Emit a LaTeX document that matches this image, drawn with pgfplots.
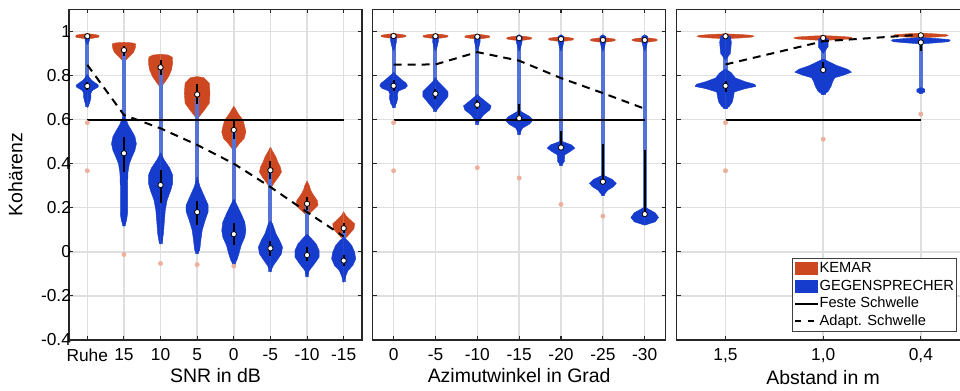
\documentclass[border=0pt]{standalone}
\usepackage{fontspec}
\setmainfont{Liberation Sans}
\usepackage{pgfplots}
\usepackage{pgfplotstable}
\pgfplotsset{compat=1.18}

\definecolor{kred}{RGB}{205,72,32}
\definecolor{kblue}{RGB}{22,60,205}
\definecolor{kcol}{RGB}{85,115,215}
\definecolor{kpink}{RGB}{236,175,155}

% ---------- Panel A (SNR) ----------
\pgfplotstableread{
v w
0.990 0
0.987 0.15
0.983 0.30
0.978 0.32
0.973 0.30
0.969 0.15
0.966 0
}\vAaR
\pgfplotstableread{
v w
0.988 0
0.982 0.06
0.970 0.07
0.955 0.05
0.940 0
}\vAaT
\pgfplotstableread{
v w
0.805 0
0.790 0.06
0.778 0.12
0.766 0.22
0.757 0.30
0.748 0.30
0.740 0.22
0.732 0.14
0.720 0.10
0.700 0.10
0.685 0.08
0.670 0.05
0.655 0
}\vAaB
\pgfplotstableread{
v w
0.950 0
0.948 0.22
0.943 0.32
0.925 0.31
0.905 0.26
0.890 0.17
0.875 0.08
0.860 0
}\vAbR
\pgfplotstableread{
v w
0.620 0
0.600 0.06
0.575 0.12
0.553 0.20
0.523 0.30
0.490 0.34
0.460 0.30
0.430 0.22
0.400 0.15
0.360 0.11
0.300 0.10
0.240 0.10
0.175 0.10
0.140 0.07
0.115 0
}\vAbB
\pgfplotstableread{
v w
0.896 0
0.893 0.20
0.883 0.32
0.856 0.33
0.826 0.30
0.795 0.22
0.773 0.13
0.755 0.05
0.745 0
}\vAcR
\pgfplotstableread{
v w
0.450 0
0.417 0.10
0.380 0.25
0.348 0.33
0.310 0.33
0.280 0.28
0.235 0.18
0.190 0.13
0.130 0.10
0.083 0.08
0.045 0.04
0.035 0
}\vAcB
\pgfplotstableread{
v w
0.795 0
0.790 0.18
0.765 0.33
0.720 0.35
0.674 0.33
0.644 0.20
0.614 0.06
0.605 0
}\vAdR
\pgfplotstableread{
v w
0.340 0
0.295 0.08
0.250 0.20
0.212 0.30
0.182 0.30
0.144 0.22
0.100 0.14
0.053 0.10
0.008 0.07
-0.010 0
}\vAdB
\pgfplotstableread{
v w
0.660 0
0.650 0.04
0.627 0.12
0.597 0.25
0.567 0.30
0.544 0.33
0.514 0.28
0.491 0.15
0.468 0.05
0.450 0
}\vAeR
\pgfplotstableread{
v w
0.240 0
0.218 0.07
0.173 0.20
0.135 0.30
0.097 0.33
0.067 0.30
0.029 0.20
-0.009 0.14
-0.039 0.08
-0.062 0
}\vAeB
\pgfplotstableread{
v w
0.475 0
0.453 0.07
0.430 0.15
0.408 0.20
0.385 0.27
0.362 0.30
0.339 0.22
0.317 0.12
0.294 0.03
0.285 0
}\vAfR
\pgfplotstableread{
v w
0.140 0
0.127 0.06
0.082 0.15
0.052 0.25
0.021 0.33
-0.009 0.30
-0.039 0.18
-0.062 0.08
-0.092 0
}\vAfB
\pgfplotstableread{
v w
0.322 0
0.301 0.06
0.279 0.10
0.256 0.18
0.233 0.28
0.211 0.30
0.191 0.18
0.173 0.06
0.165 0
}\vAgR
\pgfplotstableread{
v w
0.080 0
0.067 0.08
0.036 0.25
0.006 0.33
-0.024 0.33
-0.055 0.20
-0.085 0.06
-0.115 0
}\vAgB
\pgfplotstableread{
v w
0.182 0
0.165 0.06
0.142 0.20
0.127 0.30
0.105 0.28
0.089 0.20
0.067 0.08
0.055 0
}\vAhR
\pgfplotstableread{
v w
0.065 0
0.052 0.10
0.029 0.22
-0.002 0.30
-0.032 0.33
-0.062 0.25
-0.085 0.12
-0.108 0.06
-0.138 0
}\vAhB

% ---------- Panel B (Azimut) ----------
\pgfplotstableread{
v w
0.990 0
0.987 0.15
0.983 0.28
0.979 0.30
0.975 0.28
0.971 0.15
0.968 0
}\vBaR
\pgfplotstableread{
v w
0.989 0
0.986 0.15
0.982 0.28
0.978 0.30
0.974 0.28
0.970 0.15
0.967 0
}\vBbR
\pgfplotstableread{
v w
0.987 0
0.984 0.15
0.980 0.28
0.976 0.30
0.972 0.28
0.968 0.15
0.965 0
}\vBcR
\pgfplotstableread{
v w
0.980 0
0.977 0.15
0.973 0.28
0.969 0.30
0.965 0.28
0.961 0.15
0.958 0
}\vBdR
\pgfplotstableread{
v w
0.976 0
0.973 0.15
0.969 0.28
0.965 0.30
0.961 0.28
0.957 0.15
0.954 0
}\vBeR
\pgfplotstableread{
v w
0.972 0
0.969 0.15
0.965 0.28
0.961 0.30
0.957 0.28
0.953 0.15
0.950 0
}\vBfR
\pgfplotstableread{
v w
0.985 0
0.977 0.07
0.955 0.07
0.930 0.04
0.910 0
}\vBT
\pgfplotstableread{
v w
0.815 0
0.803 0.06
0.783 0.18
0.765 0.30
0.753 0.33
0.742 0.28
0.730 0.12
0.715 0.09
0.697 0.10
0.674 0.07
0.652 0
}\vBaB
\pgfplotstableread{
v w
0.790 0
0.773 0.06
0.750 0.18
0.727 0.30
0.705 0.30
0.682 0.20
0.659 0.10
0.636 0
}\vBbB
\pgfplotstableread{
v w
0.715 0
0.705 0.05
0.682 0.20
0.662 0.33
0.644 0.30
0.621 0.15
0.598 0.06
0.576 0
}\vBcB
\pgfplotstableread{
v w
0.645 0
0.636 0.05
0.614 0.25
0.598 0.33
0.580 0.25
0.561 0.08
0.530 0
}\vBdB
\pgfplotstableread{
v w
0.510 0
0.500 0.04
0.485 0.25
0.470 0.33
0.455 0.22
0.440 0.09
0.410 0.08
0.390 0
}\vBeB
\pgfplotstableread{
v w
0.350 0
0.344 0.05
0.329 0.22
0.311 0.32
0.295 0.25
0.280 0.12
0.262 0.04
0.255 0
}\vBfB
\pgfplotstableread{
v w
0.205 0
0.197 0.06
0.177 0.25
0.156 0.33
0.136 0.25
0.121 0
}\vBgB

% ---------- Panel C (Abstand) ----------
\pgfplotstableread{
v w
0.989 0
0.986 0.15
0.982 0.27
0.978 0.29
0.974 0.27
0.970 0.15
0.967 0
}\vCaR
\pgfplotstableread{
v w
0.981 0
0.978 0.15
0.974 0.28
0.970 0.30
0.966 0.28
0.962 0.15
0.959 0
}\vCbR
\pgfplotstableread{
v w
0.992 0
0.989 0.14
0.985 0.26
0.982 0.28
0.978 0.26
0.974 0.14
0.971 0
}\vCcR
\pgfplotstableread{
v w
0.985 0
0.978 0.05
0.950 0.06
0.900 0.05
0.870 0
}\vCaT
\pgfplotstableread{
v w
0.830 0
0.812 0.06
0.789 0.10
0.772 0.20
0.760 0.30
0.750 0.31
0.740 0.20
0.725 0.09
0.700 0.08
0.680 0.07
0.660 0.04
0.648 0
}\vCaB
\pgfplotstableread{
v w
0.975 0
0.965 0.05
0.930 0.05
0.900 0
}\vCbT
\pgfplotstableread{
v w
0.875 0
0.860 0.07
0.845 0.14
0.828 0.25
0.815 0.29
0.800 0.20
0.790 0.12
0.775 0.10
0.750 0.08
0.727 0.05
0.712 0
}\vCbB
\pgfplotstableread{
v w
0.972 0
0.968 0.15
0.963 0.29
0.958 0.30
0.953 0.28
0.948 0.15
0.943 0
}\vCcB
\pgfplotstableread{
v w
0.745 0
0.738 0.04
0.725 0.04
0.718 0
}\vCcL

\newcommand{\violin}[3]{%
  \addplot[draw=#3, line width=0.3pt, fill=#3] table[x expr=#1+\thisrow{w}, y=v] {#2};
  \addplot[draw=#3, line width=0.3pt, fill=#3] table[x expr=#1-\thisrow{w}, y=v] {#2};
}

\pgfplotsset{
  panel/.style={
    scale only axis, width=219.75pt, height=248pt, anchor=south west,
    ymin=-0.4, ymax=1.1,
    ytick={-0.4,-0.2,0,0.2,0.4,0.6,0.8,1},
    grid=major, major grid style={gray!25, line width=1.1pt},
    axis line style={black!85, line width=1pt},
    every tick/.style={black!85, line width=0.8pt},
    tick align=inside, major tick length=3pt,
    tick label style={font=\fontsize{13}{15}\selectfont},
    xticklabel style={yshift=-3pt},
    yticklabel style={xshift=5pt},
    label style={font=\fontsize{14.6}{17}\selectfont},
    xlabel style={yshift=1.5pt},
    ylabel style={yshift=7pt},
    unbounded coords=jump,
  },
  iqr/.style={black, line width=1.5pt},
  fixthr/.style={black, line width=1.5pt},
  adathr/.style={black, line width=1.5pt, dash pattern=on 6pt off 4.5pt},
  outl/.style={only marks, mark=*, mark size=1.6pt, kpink},
  med/.style={only marks, mark=*, mark size=2pt, mark options={fill=white, draw=black, line width=0.6pt}},
}

\begin{document}
\begin{tikzpicture}
% ================= Panel A =================
\begin{axis}[panel, at={(51.75pt,37.5pt)},
  xmin=0.5, xmax=8.5, xtick={1,2,3,4,5,6,7,8},
  xticklabels={Ruhe,15,10,5,0,-5,-10,-15},
  yticklabels={-0.4,-0.2,0,0.2,0.4,0.6,0.8,1},
  xlabel={SNR in dB}, ylabel={Kohärenz}]
\violin{1}{\vAaR}{kred}
\violin{2}{\vAbR}{kred}
\violin{3}{\vAcR}{kred}
\violin{4}{\vAdR}{kred}
\violin{5}{\vAeR}{kred}
\violin{6}{\vAfR}{kred}
\violin{7}{\vAgR}{kred}
\violin{8}{\vAhR}{kred}
\addplot[kcol, line width=3pt] coordinates {(1,0.985)(1,0.655) (1,nan)
 (2,0.92)(2,0.115) (2,nan) (3,0.83)(3,0.035) (3,nan) (4,0.70)(4,-0.01) (4,nan)
 (5,0.55)(5,-0.062) (5,nan) (6,0.37)(6,-0.092) (6,nan) (7,0.22)(7,-0.115) (7,nan)
 (8,0.11)(8,-0.138)};
\violin{1}{\vAaT}{kblue}
\violin{1}{\vAaB}{kblue}
\violin{2}{\vAbB}{kblue}
\violin{3}{\vAcB}{kblue}
\violin{4}{\vAdB}{kblue}
\violin{5}{\vAeB}{kblue}
\violin{6}{\vAfB}{kblue}
\violin{7}{\vAgB}{kblue}
\violin{8}{\vAhB}{kblue}
\addplot[iqr] coordinates {(2,0.89)(2,0.935) (2,nan) (3,0.80)(3,0.87) (3,nan)
 (4,0.67)(4,0.76) (4,nan) (5,0.51)(5,0.60) (5,nan) (6,0.33)(6,0.41) (6,nan)
 (7,0.19)(7,0.25) (7,nan) (8,0.085)(8,0.13)};
\addplot[iqr] coordinates {(1,0.735)(1,0.77) (1,nan) (2,0.36)(2,0.52) (2,nan)
 (3,0.22)(3,0.37) (3,nan) (4,0.12)(4,0.23) (4,nan) (5,0.03)(5,0.13) (5,nan)
 (6,-0.02)(6,0.05) (6,nan) (7,-0.04)(7,0.02) (7,nan) (8,-0.065)(8,-0.015)};
\addplot[fixthr] coordinates {(1,0.6)(8,0.6)};
\addplot[adathr] coordinates {(1,0.848)(2,0.621)(3,0.56)(4,0.485)(5,0.40)(6,0.294)(7,0.18)(8,0.07)};
\addplot[outl] coordinates {(1,0.586)(1,0.368)(2,-0.012)(3,-0.053)(4,-0.058)(5,-0.065)};
\addplot[med] coordinates {(1,0.978)(2,0.915)(3,0.837)(4,0.714)(5,0.553)(6,0.37)(7,0.218)(8,0.107)};
\addplot[med] coordinates {(1,0.752)(2,0.447)(3,0.303)(4,0.18)(5,0.08)(6,0.016)(7,-0.015)(8,-0.04)};
\end{axis}

% ================= Panel B =================
\begin{axis}[panel, at={(279.5pt,37.5pt)},
  xmin=0.5, xmax=7.5, xtick={1,2,3,4,5,6,7},
  xticklabels={0,-5,-10,-15,-20,-25,-30},
  yticklabels={},
  xlabel={Azimutwinkel in Grad}]
\violin{1}{\vBaR}{kred}
\violin{2}{\vBbR}{kred}
\violin{3}{\vBcR}{kred}
\violin{4}{\vBdR}{kred}
\violin{5}{\vBeR}{kred}
\violin{6}{\vBfR}{kred}
\violin{7}{\vBfR}{kred}
\addplot[kcol, line width=3pt] coordinates {(1,0.975)(1,0.652) (1,nan)
 (2,0.975)(2,0.636) (2,nan) (3,0.975)(3,0.576) (3,nan) (4,0.97)(4,0.53) (4,nan)
 (5,0.97)(5,0.39) (5,nan) (6,0.965)(6,0.255) (6,nan) (7,0.965)(7,0.121)};
\violin{1}{\vBT}{kblue}
\violin{2}{\vBT}{kblue}
\violin{3}{\vBT}{kblue}
\violin{4}{\vBT}{kblue}
\violin{5}{\vBT}{kblue}
\violin{6}{\vBT}{kblue}
\violin{7}{\vBT}{kblue}
\violin{1}{\vBaB}{kblue}
\violin{2}{\vBbB}{kblue}
\violin{3}{\vBcB}{kblue}
\violin{4}{\vBdB}{kblue}
\violin{5}{\vBeB}{kblue}
\violin{6}{\vBfB}{kblue}
\violin{7}{\vBgB}{kblue}
\addplot[iqr] coordinates {(1,0.73)(1,0.78) (1,nan) (2,0.695)(2,0.74) (2,nan)
 (3,0.65)(3,0.69) (3,nan) (4,0.60)(4,0.67) (4,nan) (5,0.47)(5,0.55) (5,nan)
 (6,0.32)(6,0.49) (6,nan) (7,0.17)(7,0.46)};
\addplot[fixthr] coordinates {(1,0.6)(7,0.6)};
\addplot[adathr] coordinates {(1,0.849)(2,0.85)(3,0.906)(4,0.867)(5,0.788)(6,0.72)(7,0.649)};
\addplot[outl] coordinates {(1,0.586)(1,0.368)(3,0.382)(4,0.335)(5,0.215)(6,0.162)};
\addplot[med] coordinates {(1,0.979)(2,0.978)(3,0.976)(4,0.969)(5,0.965)(6,0.961)(7,0.961)};
\addplot[med] coordinates {(1,0.753)(2,0.717)(3,0.667)(4,0.606)(5,0.473)(6,0.318)(7,0.171)};
\end{axis}

% ================= Panel C =================
\begin{axis}[panel, at={(507.5pt,37.5pt)},
  xmin=0.5, xmax=3.5, xtick={1,2,3},
  xticklabels={{1,5},{1,0},{0,4}},
  yticklabels={},
  xlabel={Abstand in m},
  legend entries={KEMAR,GEGENSPRECHER,Feste Schwelle,Adapt. Schwelle},
  legend cell align=left,
  legend style={at={(0.3945,0.247)}, anchor=north west, draw=black!75, line width=0.6pt,
    fill=white, font=\fontsize{11}{12}\selectfont, inner xsep=1pt, inner ysep=0.8pt,
    row sep=0pt, nodes={inner sep=0.8pt, text height=8.9pt, text depth=2.7pt}}]
\addlegendimage{legend image code/.code={\fill[kred] (0pt,-4.6pt) rectangle (16.5pt,4.6pt);}}
\addlegendimage{legend image code/.code={\fill[kblue] (0pt,-4.6pt) rectangle (16.5pt,4.6pt);}}
\addlegendimage{legend image code/.code={\draw[black, line width=1.4pt] (0pt,0pt) -- (17pt,0pt);}}
\addlegendimage{legend image code/.code={\draw[black, line width=1.4pt, dash pattern=on 4.5pt off 5pt] (0pt,0pt) -- (17pt,0pt);}}
\violin{1}{\vCaR}{kred}
\violin{2}{\vCbR}{kred}
\violin{3}{\vCcR}{kred}
\addplot[kcol, line width=3.5pt] coordinates {(1,0.985)(1,0.648) (1,nan)
 (2,0.97)(2,0.712) (2,nan) (3,0.96)(3,0.718)};
\violin{1}{\vCaT}{kblue}
\violin{2}{\vCbT}{kblue}
\violin{1}{\vCaB}{kblue}
\violin{2}{\vCbB}{kblue}
\violin{3}{\vCcB}{kblue}
\violin{3}{\vCcL}{kblue}
\addplot[iqr] coordinates {(1,0.727)(1,0.774) (1,nan) (2,0.82)(2,0.86) (2,nan) (3,0.91)(3,0.96)};
\addplot[fixthr] coordinates {(1,0.6)(3,0.6)};
\addplot[adathr] coordinates {(1,0.85)(2,0.955)(3,0.985)};
\addplot[outl] coordinates {(1,0.586)(1,0.368)(2,0.511)(3,0.625)};
\addplot[med] coordinates {(1,0.978)(2,0.97)(3,0.982)};
\addplot[med] coordinates {(1,0.753)(2,0.825)(3,0.95)};
\end{axis}
\pgfresetboundingbox
\useasboundingbox (0,0) rectangle (720pt,292.5pt);
\end{tikzpicture}
\end{document}
